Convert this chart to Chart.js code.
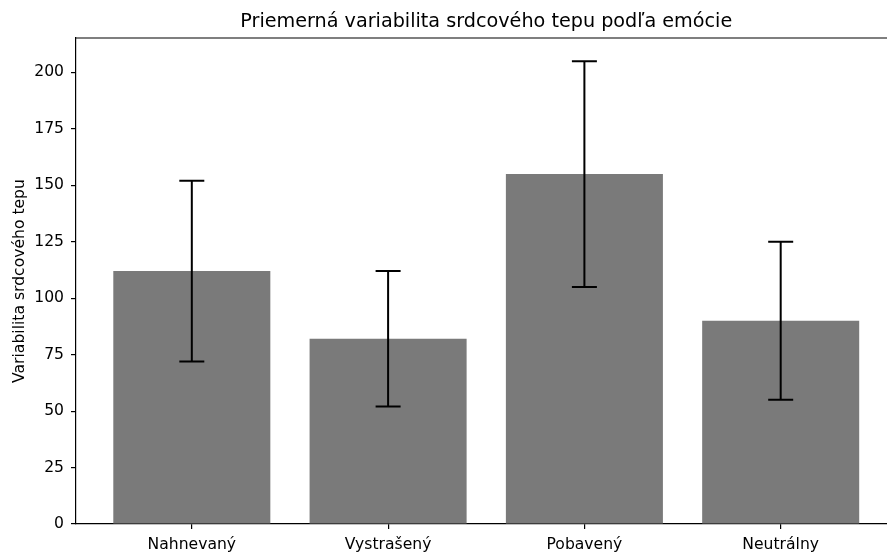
<!DOCTYPE html>
<html>
<head>
<meta charset="utf-8">
<script src="https://cdn.jsdelivr.net/npm/chart.js@4/dist/chart.umd.min.js"></script>
<style>
  html, body { margin: 0; padding: 0; background: #fff; overflow: hidden; }
  #wrap { width: 910px; height: 552px; }
</style>
</head>
<body>
<div id="wrap"><canvas id="chart" width="910" height="552"></canvas></div>
<script>
const emotions = ["Nahnevaný", "Vystrašený", "Pobavený", "Neutrálny"];
const meanHRV = [112, 82, 155, 90];
const errHRV = [40, 30, 50, 35];
const yTicks = [0, 25, 50, 75, 100, 125, 150, 175, 200];

const TITLE = "Priemerná variabilita srdcového tepu podľa emócie";
const FONT = "'DejaVu Sans', sans-serif";

// error bars drawn on top of the bars, through the chart's own scales
const errorBars = {
  id: "errorBars",
  afterDatasetsDraw(chart) {
    const ctx = chart.ctx;
    const meta = chart.getDatasetMeta(0);
    const y = chart.scales.y;
    ctx.save();
    ctx.strokeStyle = "#000";
    ctx.lineWidth = 2;
    meta.data.forEach((bar, i) => {
      const top = y.getPixelForValue(meanHRV[i] + errHRV[i]);
      const bottom = y.getPixelForValue(meanHRV[i] - errHRV[i]);
      ctx.beginPath();
      ctx.moveTo(bar.x, top);
      ctx.lineTo(bar.x, bottom);
      ctx.moveTo(bar.x - 12.5, top);
      ctx.lineTo(bar.x + 12.5, top);
      ctx.moveTo(bar.x - 12.5, bottom);
      ctx.lineTo(bar.x + 12.5, bottom);
      ctx.stroke();
    });
    ctx.restore();
  },
};

// top/right spines and a title centred over the axes, like matplotlib
const frame = {
  id: "frame",
  afterDraw(chart) {
    const { ctx, chartArea } = chart;
    ctx.save();
    ctx.strokeStyle = "#000";
    ctx.lineWidth = 1.2;
    ctx.beginPath();
    ctx.moveTo(chartArea.left, chartArea.top);
    ctx.lineTo(chartArea.right, chartArea.top);
    ctx.lineTo(chartArea.right, chartArea.bottom);
    ctx.stroke();

    ctx.fillStyle = "#000";
    ctx.font = "19.2px " + FONT;
    ctx.textAlign = "center";
    ctx.textBaseline = "alphabetic";
    ctx.fillText(TITLE, (chartArea.left + chartArea.right) / 2, 27);
    ctx.restore();
  },
};

new Chart(document.getElementById("chart").getContext("2d"), {
  type: "bar",
  data: {
    datasets: [
      {
        data: meanHRV.map((v, i) => ({ x: i, y: v })),
        backgroundColor: "#7a7a7a",
        borderWidth: 0,
        categoryPercentage: 0.8,
        barPercentage: 1,
      },
    ],
  },
  options: {
    responsive: false,
    animation: false,
    layout: { padding: { left: 0, right: 13.5, top: 38, bottom: 0 } },
    plugins: {
      legend: { display: false },
      tooltip: { enabled: false },
      title: { display: false },
    },
    scales: {
      x: {
        type: "linear",
        min: -0.59,
        max: 3.59,
        offset: false,
        afterBuildTicks(scale) {
          scale.ticks = emotions.map((_, i) => ({ value: i }));
        },
        afterFit(scale) {
          scale.height = 28;
        },
        grid: {
          offset: false,
          drawOnChartArea: false,
          drawTicks: true,
          tickLength: 5,
          color: "#000",
          lineWidth: 1.2,
        },
        border: { display: true, color: "#000", width: 1.2 },
        ticks: {
          color: "#000",
          padding: 6.5,
          font: { family: FONT, size: 15.6 },
          maxRotation: 0,
          autoSkip: false,
          callback: (v) => emotions[v],
        },
      },
      y: {
        min: 0,
        max: 215.25,
        afterBuildTicks(scale) {
          scale.ticks = yTicks.map((v) => ({ value: v }));
        },
        afterFit(scale) {
          scale.width = 76;
        },
        grid: {
          drawOnChartArea: false,
          drawTicks: true,
          tickLength: 5,
          color: "#000",
          lineWidth: 1.2,
        },
        border: { display: true, color: "#000", width: 1.2 },
        ticks: {
          color: "#000",
          padding: 7,
          font: { family: FONT, size: 15.6 },
        },
        title: {
          display: true,
          text: "Variabilita srdcového tepu",
          color: "#000",
          font: { family: FONT, size: 15.6 },
          padding: { top: 11, bottom: 4 },
        },
      },
    },
  },
  plugins: [errorBars, frame],
});
</script>
</body>
</html>
